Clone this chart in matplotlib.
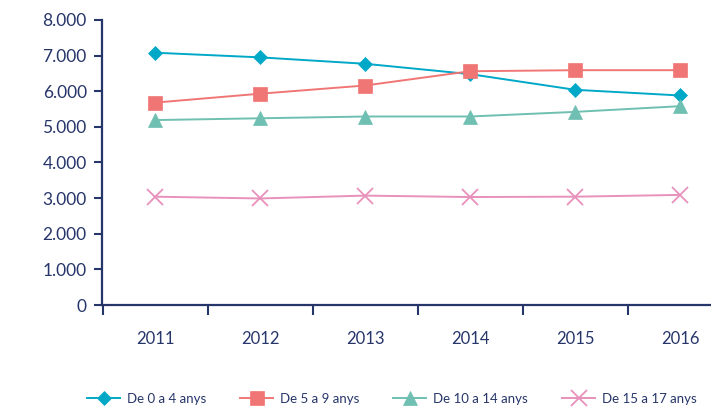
import matplotlib
matplotlib.use("Agg")
import matplotlib.pyplot as plt

plt.rcParams.update({"font.family": ["Lato", "DejaVu Sans"]})
NAVY = "#27366a"

years = ["2011", "2012", "2013", "2014", "2015", "2016"]
age_0_4 = [7080, 6950, 6770, 6480, 6040, 5880]
age_5_9 = [5680, 5930, 6160, 6560, 6590, 6590]
age_10_14 = [5190, 5240, 5290, 5290, 5420, 5580]
age_15_17 = [3040, 2990, 3070, 3030, 3040, 3090]
labels = ["De 0 a 4 anys", "De 5 a 9 anys", "De 10 a 14 anys", "De 15 a 17 anys"]

series = [age_0_4, age_5_9, age_10_14, age_15_17]
colors = ["#00a8c8", "#f07676", "#6fbfb2", "#e891bb"]
markers = ["D", "s", "^", "x"]
msizes = [7.5, 9.5, 10, 11]

fig = plt.figure(figsize=(7.11, 4.07), dpi=100)
ax = fig.add_axes([0.1435, 0.2506, 0.8565, 0.7004])
x = list(range(len(years)))
for vals, c, m, ms, lab in zip(series, colors, markers, msizes, labels):
    ax.plot(x, vals, color=c, lw=1.4, marker=m, ms=ms, mec=c, mfc=c,
            mew=1.3 if m == "x" else 0.5, label=lab)

ax.set_xlim(-0.505, 5.295)
ax.set_ylim(0, 8000)
ax.set_yticks(range(0, 8001, 1000))
ax.set_yticklabels(["0"] + [f"{v // 1000}.000" for v in range(1000, 8001, 1000)])
ax.set_xticks(x)
ax.set_xticklabels(years)
ax.set_xticks([i - 0.5 for i in range(6)], minor=True)
ax.tick_params(axis="x", which="major", length=0, pad=19, labelsize=12, labelcolor=NAVY)
ax.tick_params(axis="x", which="minor", length=7, width=1.5, color=NAVY, direction="out")
ax.tick_params(axis="y", length=6, width=1.5, color=NAVY, labelsize=12.5, labelcolor=NAVY, pad=5)
for s in ["top", "right"]:
    ax.spines[s].set_visible(False)
for s in ["left", "bottom"]:
    ax.spines[s].set_color(NAVY)
    ax.spines[s].set_linewidth(1.6)

fig.legend(loc="center", bbox_to_anchor=(0.551, 0.02), ncol=4, frameon=False,
           fontsize=9.5, labelcolor=NAVY, handlelength=2.5, columnspacing=2.6,
           handletextpad=0.5, borderaxespad=0)

fig.savefig("out.png", dpi=100)
